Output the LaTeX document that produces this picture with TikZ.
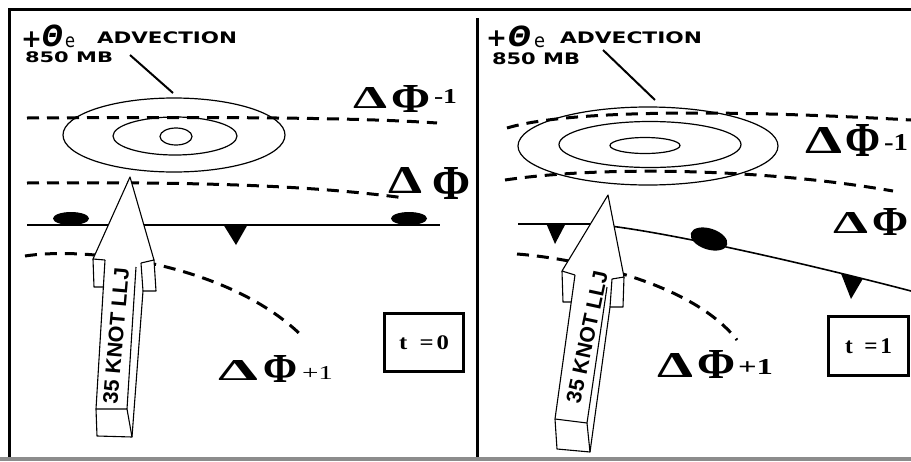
\documentclass[tikz,border=0pt]{standalone}
\usepackage{fontspec}
\usepackage{graphicx}
\setmainfont{Liberation Serif}
\newfontfamily\dvsans{DejaVu Sans}
\newfontfamily\libsans{Liberation Sans}
\newcommand\fitbox[3]{\resizebox*{#1}{#2}{#3}}
\tikzset{
  lbl/.style={inner sep=0pt, outer sep=0pt, anchor=south west},
  isobar/.style={line width=3pt, dash pattern=on 12pt off 8pt},
  thetaline/.style={line width=1.2pt},
  frontline/.style={line width=2pt},
  leader/.style={line width=2pt},
  jetarrow/.style={line width=1.1pt, line join=round},
  jetfill/.style={fill=white},
  tbox/.style={draw, line width=3pt, inner sep=0pt},
  frame/.style={line width=3pt},
}
\begin{document}
\begin{tikzpicture}[x=1pt,y=-1pt]
\useasboundingbox (0,0) rectangle (911,461);
\clip (0,0) rectangle (911,461);
\fill[white] (0,0) rectangle (911,461);

% ---------- frame ----------
\draw[frame] (8,9) -- (911,9);
\draw[frame] (9,8) -- (9,457);
\draw[frame] (477,18) -- (477,457);
\fill[black!45] (0,457) rectangle (911,461);

% ================= LEFT PANEL (t=0) =================
% isobars
\draw[isobar] (27,118) .. controls (200,117) and (350,117) .. (437,123);
\draw[isobar] (27,183) .. controls (180,182) and (300,184) .. (405,198);
\draw[isobar] (25,256) .. controls (90,246) and (230,265) .. (302,336);
% theta-e contours
\draw[thetaline] (174,135) ellipse [x radius=111pt, y radius=37pt];
\draw[thetaline] (175,136) ellipse [x radius=62pt, y radius=19pt];
\draw[thetaline] (176,136.5) ellipse [x radius=16pt, y radius=8.5pt];
% front
\draw[frontline] (27,224.5) -- (440,224.5);
\fill (71,218.5) ellipse [x radius=18pt, y radius=6.5pt];
\fill (409,218.5) ellipse [x radius=18pt, y radius=6.5pt];
\fill (223,224) -- (248,224) -- (236,245) -- cycle;
% labels
\node[lbl, anchor=center] (plusL) at (31.5,40) {\fontsize{25}{25}\selectfont\dvsans\bfseries +};
\node[lbl] (thL) at (42,47) {\fitbox{21pt}{22pt}{\dvsans\bfseries\itshape Θ}};
\node[lbl] (eL) at (65,48) {\fitbox{10pt}{11pt}{\dvsans e}};
\node[lbl] (advL) at (97,44) {\fitbox{140pt}{12pt}{\dvsans\bfseries ADVECTION}};
\node[lbl] (mbL) at (25,63) {\fitbox{88pt}{11pt}{\dvsans\bfseries 850 MB}};
\coordinate (ldLa) at (130,55);
\coordinate (ldLb) at (173,93);
\draw[leader] (ldLa) -- (ldLb);

\node[lbl] (dL1a) at (353,108) {\fitbox{34pt}{21pt}{\bfseries Δ}};
\node[lbl] (dL1b) at (391,112) {\fitbox{39pt}{27pt}{\bfseries Φ}};
\node[lbl] (dL1c) at (434,103) {\fitbox{23pt}{14pt}{\bfseries -1}};
\node[lbl] (dL2a) at (388,193) {\fitbox{34pt}{26pt}{\bfseries Δ}};
\node[lbl] (dL2b) at (432,199) {\fitbox{38pt}{32pt}{\bfseries Φ}};
\node[lbl] (dL3a) at (218,380) {\fitbox{40pt}{20pt}{\bfseries Δ}};
\node[lbl] (dL3b) at (263,382) {\fitbox{34pt}{27pt}{\bfseries Φ}};
\node[lbl] (dL3c) at (302,379) {\fitbox{31pt}{13pt}{+1}};

\node[tbox, minimum width=79pt, minimum height=58pt] (t0) at (424,342.5)
  {\fitbox{50pt}{14pt}{\bfseries t\hspace{0.5em}=\hspace{0.12em}0}};

% jet arrow
\fill[jetfill] (130,177) -- (154,260) -- (156,291) -- (143,291) -- (132,437) -- (97,436)
  -- (96,409) -- (104,287) -- (94,287) -- (93,259) -- cycle;
\draw[jetarrow] (105,260) -- (93,259) -- (130,177) -- (154,260) -- (141,263);
\draw[jetarrow] (93,259) -- (94,287) -- (104,287);
\draw[jetarrow] (105,260) -- (96,409) -- (97,436) -- (132,437) -- (143,291) -- (156,291) -- (154,260);
\draw[jetarrow] (141,263) -- (143,291);
\draw[jetarrow] (136,267) -- (127,409) -- (96,409);
\draw[jetarrow] (127,409) -- (132,437);
\node[inner sep=0pt, rotate=85] (jetL) at (116,336)
  {\fitbox{136pt}{15pt}{\libsans\bfseries 35 KNOT LLJ}};

% ================= RIGHT PANEL (t=1) =================
\draw[isobar] (507,128) .. controls (560,112) and (700,108) .. (911,120);
\draw[isobar] (505,180) .. controls (600,166) and (760,168) .. (893,191);
\draw[isobar] (517,254) .. controls (570,258) and (690,280) .. (737,340);
\draw[thetaline] (648,146) ellipse [x radius=130pt, y radius=39pt];
\draw[thetaline] (650,144.5) ellipse [x radius=91pt, y radius=23pt];
\draw[thetaline] (645,145.5) ellipse [x radius=35pt, y radius=8pt];
% front
\draw[line width=1.6pt] (518,224) -- (590,224) .. controls (650,228) and (800,262) .. (911,291);
\fill (546,223) -- (566,223) -- (555,244) -- cycle;
\fill (841,273.5) -- (863,278.5) -- (851,299) -- cycle;
\fill[rotate around={-18:(709,239)}] (709,239) ellipse [x radius=19pt, y radius=10.5pt];
% labels
\node[lbl, anchor=center] (plusR) at (496.5,39) {\fontsize{25}{25}\selectfont\dvsans\bfseries +};
\node[lbl] (thR) at (508,47) {\fitbox{23pt}{21pt}{\dvsans\bfseries\itshape Θ}};
\node[lbl] (eR) at (534,48) {\fitbox{11pt}{11pt}{\dvsans e}};
\node[lbl] (advR) at (560,44) {\fitbox{142pt}{12pt}{\dvsans\bfseries ADVECTION}};
\node[lbl] (mbR) at (492,65) {\fitbox{88pt}{12pt}{\dvsans\bfseries 850 MB}};
\coordinate (ldRa) at (603,50);
\coordinate (ldRb) at (655,100);
\draw[leader] (ldRa) -- (ldRb);

\node[lbl] (dR1a) at (805,153) {\fitbox{37pt}{26pt}{\bfseries Δ}};
\node[lbl] (dR1b) at (845,156) {\fitbox{35pt}{32pt}{\bfseries Φ}};
\node[lbl] (dR1c) at (884,150) {\fitbox{24pt}{16pt}{\bfseries -1}};
\node[lbl] (dR2a) at (833,233) {\fitbox{35pt}{21pt}{\bfseries Δ}};
\node[lbl] (dR2b) at (872,235) {\fitbox{36pt}{27pt}{\bfseries Φ}};
\node[lbl] (dR3a) at (657,377) {\fitbox{36pt}{24pt}{\bfseries Δ}};
\node[lbl] (dR3b) at (697,378) {\fitbox{38pt}{28pt}{\bfseries Φ}};
\node[lbl] (dR3c) at (738,374) {\fitbox{35pt}{15pt}{\bfseries +1}};

\node[tbox, minimum width=80pt, minimum height=59pt] (t1) at (868.5,346)
  {\fitbox{47pt}{15pt}{\bfseries t\hspace{0.5em}=\hspace{0.12em}1}};

% jet arrow
\fill[jetfill] (608,195) -- (624,277) -- (623,307) -- (610,307) -- (590,452) -- (557,449)
  -- (555,419) -- (571,302) -- (563,302) -- (562,271) -- cycle;
\draw[jetarrow] (575,275) -- (562,271) -- (608,195) -- (624,277) -- (612,279);
\draw[jetarrow] (562,271) -- (563,302) -- (571,302);
\draw[jetarrow] (575,275) -- (555,419) -- (557,449) -- (590,452) -- (610,307) -- (623,307) -- (624,277);
\draw[jetarrow] (612,279) -- (610,307);
\draw[jetarrow] (607,287) -- (587,423) -- (555,419);
\draw[jetarrow] (587,423) -- (590,452);
\node[inner sep=0pt, rotate=78] (jetR) at (587,337)
  {\fitbox{134pt}{15pt}{\libsans\bfseries 35 KNOT LLJ}};
\end{tikzpicture}
\end{document}
